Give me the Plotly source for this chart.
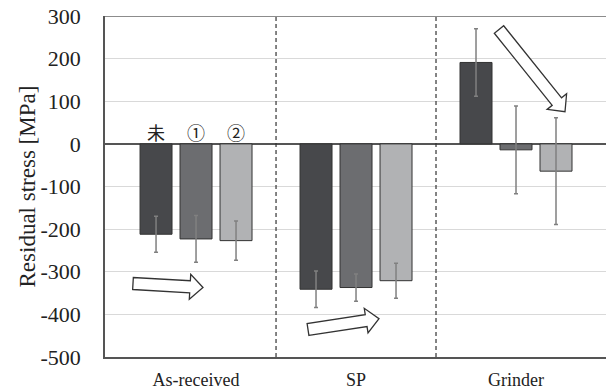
import plotly.graph_objects as go

# ---- data ----
groups = ["As-received", "SP", "Grinder"]
series_names = ["未", "①", "②"]
s1_vals = [-212, -341, 191]
s1_err = [42, 43, 79]
s2_vals = [-223, -337, -14]
s2_err = [55, 32, 103]
s3_vals = [-227, -321, -64]
s3_err = [46, 41, 125]
y_ticks = [300, 200, 100, 0, -100, -200, -300, -400, -500]
y_ticktext = ["300", "200", "100", "0", "-100", "-200", "-300", "-400", "-500"]

colors = ["#47484b", "#6c6d70", "#b1b2b4"]
series = [(s1_vals, s1_err), (s2_vals, s2_err), (s3_vals, s3_err)]

W, H = 606, 390
L, R, T, B = 105, 0, 16, 33
PW, PH = W - L - R, H - T - B

fig = go.Figure()
for (vals, err), name, col in zip(series, series_names, colors):
    fig.add_trace(go.Bar(
        x=groups, y=vals, name=name,
        marker=dict(color=col, line=dict(color="#333333", width=1)),
        error_y=dict(type="data", array=err, visible=True,
                     color="#808080", thickness=1.5, width=2),
    ))

serif = "Liberation Serif, serif"

def px2paper(px, py):
    return (px - L) / PW, (H - B - py) / PH

def arrow_path(tail, tip, w=6, h=12.5, hl=13):
    import math
    tx, ty = tail
    px_, py_ = tip
    dx, dy = px_ - tx, py_ - ty
    ln = math.hypot(dx, dy)
    ux, uy = dx / ln, dy / ln
    nx, ny = -uy, ux
    bx, by = px_ - ux * hl, py_ - uy * hl
    pts = [
        (tx + nx * w, ty + ny * w),
        (bx + nx * w, by + ny * w),
        (bx + nx * h, by + ny * h),
        (px_, py_),
        (bx - nx * h, by - ny * h),
        (bx - nx * w, by - ny * w),
        (tx - nx * w, ty - ny * w),
    ]
    pp = [px2paper(a, b) for a, b in pts]
    return "M " + " L ".join(f"{a:.5f},{b:.5f}" for a, b in pp) + " Z"

shapes = []
# dashed separators
for xs in [0.5, 1.5]:
    shapes.append(dict(type="line", xref="x", yref="y", x0=xs, x1=xs, y0=-500, y1=300,
                       line=dict(color="#333333", width=1.2, dash="4px,3px")))
# top border
shapes.append(dict(type="line", xref="paper", yref="y", x0=0, x1=1, y0=300, y1=300,
                   line=dict(color="#666666", width=1.5)))
# arrows
for tail, tip in [((133, 283.5), (203, 287.5)),
                  ((308, 329.5), (379, 318.7)),
                  ((499, 29.5), (565, 111.7))]:
    shapes.append(dict(type="path", xref="paper", yref="paper", path=arrow_path(tail, tip),
                       fillcolor="white", line=dict(color="#333333", width=1.3)))

annotations = []
for i, name in enumerate(series_names):
    annotations.append(dict(x=(i - 1) * 0.25, y=28, xref="x", yref="y", text=name,
                            showarrow=False, yanchor="middle",
                            font=dict(family="Noto Sans CJK JP", size=18, color="#222222")))
annotations.append(dict(x=px2paper(27, 0)[0], y=0.5, xref="paper", yref="paper",
                        text="Residual stress [MPa]", textangle=-90, showarrow=False,
                        xanchor="center", yanchor="middle",
                        font=dict(family=serif, size=23, color="#222222")))

fig.update_layout(
    width=W, height=H,
    margin=dict(l=L, r=R, t=T, b=B),
    paper_bgcolor="white", plot_bgcolor="white",
    barmode="group", bargap=0.25, bargroupgap=0.2,
    showlegend=False,
    shapes=shapes, annotations=annotations,
    xaxis=dict(type="category", range=[-0.569, 2.5625], showgrid=False,
               showline=True, linecolor="#555555", linewidth=1.5,
               ticks="", ticklabelstandoff=6, automargin=False,
               tickfont=dict(family=serif, size=18, color="#222222")),
    yaxis=dict(range=[-500, 300], tickvals=y_ticks, ticktext=y_ticktext,
               showgrid=True, gridcolor="#d9d9d9", gridwidth=1,
               zeroline=True, zerolinecolor="#555555", zerolinewidth=1.5,
               showline=True, linecolor="#555555", linewidth=1.5,
               ticks="", ticklabelstandoff=18, automargin=False,
               tickfont=dict(family=serif, size=22, color="#222222")),
)

fig.write_html("out.html", config={"displayModeBar": False},
               post_script="document.body.style.margin='0';document.body.style.padding='0';")
